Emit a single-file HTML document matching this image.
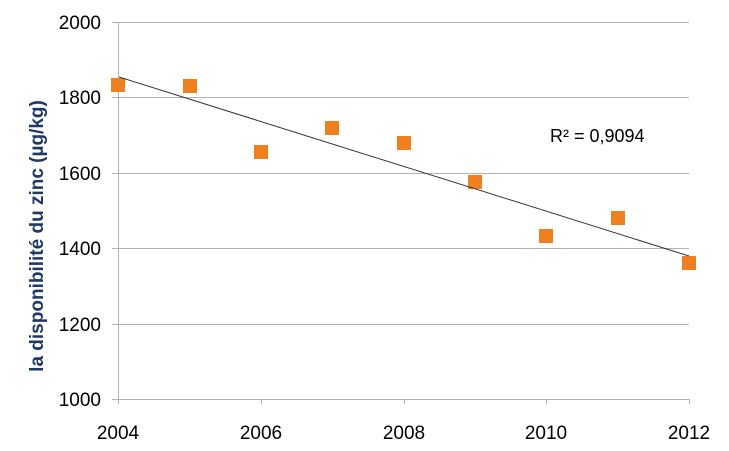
<!DOCTYPE html>
<html><head><meta charset="utf-8"><style>
html,body{margin:0;padding:0;background:#fff;}
svg{display:block;font-family:"Liberation Sans",sans-serif;}
</style></head><body>
<svg width="729" height="451" viewBox="0 0 729 451">
<g stroke="#b3b3b3" stroke-width="1">
<line x1="112" y1="22.5" x2="689" y2="22.5"/>
<line x1="112" y1="97.5" x2="689" y2="97.5"/>
<line x1="112" y1="173.5" x2="689" y2="173.5"/>
<line x1="112" y1="248.5" x2="689" y2="248.5"/>
<line x1="112" y1="324.5" x2="689" y2="324.5"/>
<line x1="112" y1="399.5" x2="689" y2="399.5"/>
<line x1="118.5" y1="22" x2="118.5" y2="404"/>
<line x1="261.5" y1="399" x2="261.5" y2="404"/>
<line x1="404.5" y1="399" x2="404.5" y2="404"/>
<line x1="546.5" y1="399" x2="546.5" y2="404"/>
<line x1="689.5" y1="399" x2="689.5" y2="404"/>
</g>
<g fill="#000" font-size="19" text-anchor="end">
<text x="101" y="29">2000</text>
<text x="101" y="104">1800</text>
<text x="101" y="180">1600</text>
<text x="101" y="255">1400</text>
<text x="101" y="331">1200</text>
<text x="101" y="406">1000</text>
</g>
<g fill="#000" font-size="19" text-anchor="middle">
<text x="118" y="439">2004</text>
<text x="261" y="439">2006</text>
<text x="404" y="439">2008</text>
<text x="546" y="439">2010</text>
<text x="689" y="439">2012</text>
</g>
<text transform="translate(43,236) rotate(-90)" text-anchor="middle" font-size="19" font-weight="bold" fill="#1f3864">la disponibilité du zinc (µg/kg)</text>
<g fill="#ee8020">
<rect x="111" y="78" width="14" height="14"/>
<rect x="183" y="79" width="14" height="14"/>
<rect x="254" y="145" width="14" height="14"/>
<rect x="325" y="121" width="14" height="14"/>
<rect x="397" y="136" width="14" height="14"/>
<rect x="468" y="175" width="14" height="14"/>
<rect x="539" y="229" width="14" height="14"/>
<rect x="611" y="211" width="14" height="14"/>
<rect x="682" y="256" width="14" height="14"/>
</g>
<line x1="119" y1="77" x2="689" y2="256" stroke="#333" stroke-width="1"/>
<text x="550" y="142" font-size="18" fill="#000">R² = 0,9094</text>
</svg>
</body></html>
